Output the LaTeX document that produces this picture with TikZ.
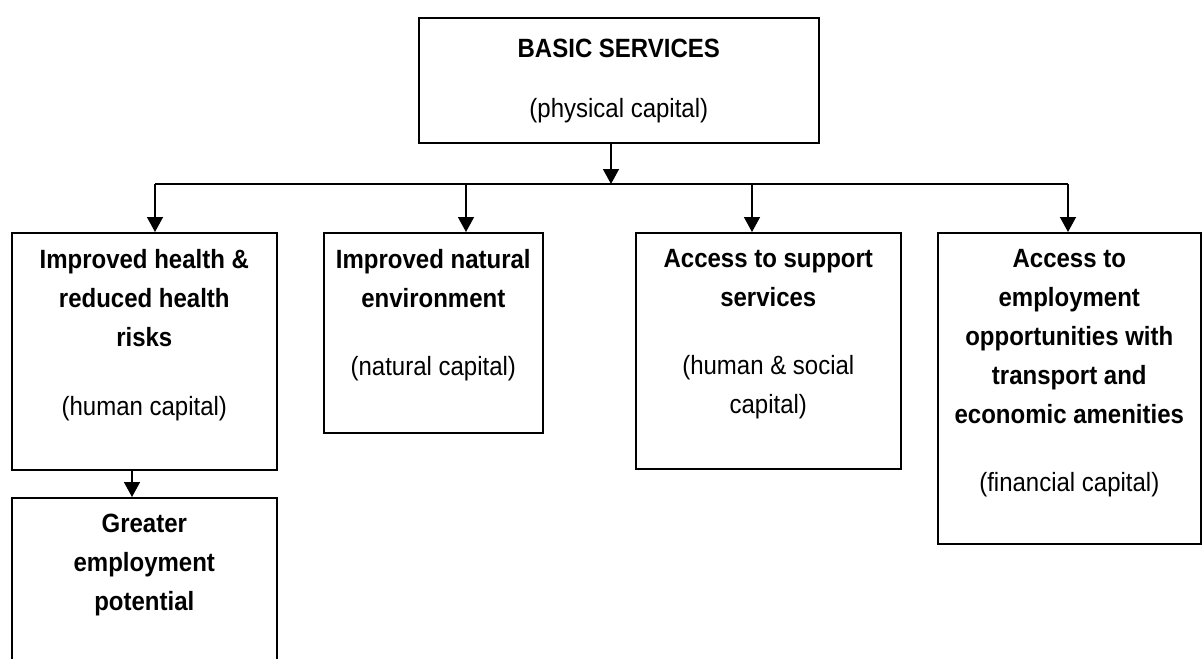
\documentclass[tikz,border=0pt]{standalone}
\usepackage{graphicx}
\usepackage{fontspec}
\setmainfont{Liberation Sans}
\usetikzlibrary{arrows.meta}
\newcommand\vsline[1]{\scalebox{1}[1.1]{#1}}
\newcommand\bline[1]{\scalebox{1}[1.1]{\textbf{#1}}}
\begin{document}
\begin{tikzpicture}[x=1pt,y=-1pt,
  box/.style={draw, line width=1.6pt, rectangle, inner sep=0pt, anchor=north west},
  txt/.style={align=center, inner sep=0pt, anchor=north, font=\fontsize{24}{39}\selectfont},
  arr/.style={line width=1.5pt, -{Triangle[length=15pt,width=16pt]}},
  ln/.style={line width=1.5pt}
]
\useasboundingbox (0,0) rectangle (1203,659);

% boxes
\node[box, minimum width=400pt, minimum height=125pt] (bs) at (418,17) {};
\node[box, minimum width=265pt, minimum height=237pt] (b1) at (11,232) {};
\node[box, minimum width=219pt, minimum height=200pt] (b2) at (323,232) {};
\node[box, minimum width=265pt, minimum height=236pt] (b3) at (635,232) {};
\node[box, minimum width=263pt, minimum height=311pt] (b4) at (937,232) {};
\node[box, minimum width=265pt, minimum height=220pt] (b5) at (11,497) {};

% texts
\node[txt] (t0) at ([yshift=-22pt]bs.north) {\bline{BASIC SERVICES}\\[21pt]\vsline{(physical capital)}};
\node[txt] (t1) at ([yshift=-17pt]b1.north) {\bline{Improved health \&}\\\bline{reduced health}\\\bline{risks}\\[30pt]\vsline{(human capital)}};
\node[txt] (t2) at ([yshift=-17pt]b2.north) {\bline{Improved natural}\\\bline{environment}\\[29pt]\vsline{(natural capital)}};
\node[txt] (t3) at ([yshift=-17pt]b3.north) {\bline{Access to support}\\\bline{services}\\[29pt]\vsline{(human \& social}\\\vsline{capital)}};
\node[txt] (t4) at ([yshift=-17pt]b4.north) {\bline{Access to}\\\bline{employment}\\\bline{opportunities with}\\\bline{transport and}\\\bline{economic amenities}\\[29pt]\vsline{(financial capital)}};
\node[txt] (t5) at ([yshift=-17pt]b5.north) {\bline{Greater}\\\bline{employment}\\\bline{potential}};

% connectors
\coordinate (jc) at (611,184);
\coordinate (j1) at (155,184);
\coordinate (j2) at (466,184);
\coordinate (j3) at (752,184);
\coordinate (j4) at (1068,184);
\coordinate (k1) at (132,469);

\draw[arr] (bs.south -| jc) -- (jc);
\draw[ln] (j1) -- (j4);
\draw[arr] (j1) -- (j1 |- b1.north);
\draw[arr] (j2) -- (j2 |- b2.north);
\draw[arr] (j3) -- (j3 |- b3.north);
\draw[arr] (j4) -- (j4 |- b4.north);
\draw[arr] (k1 |- b1.south) -- (k1 |- b5.north);
\end{tikzpicture}
\end{document}
